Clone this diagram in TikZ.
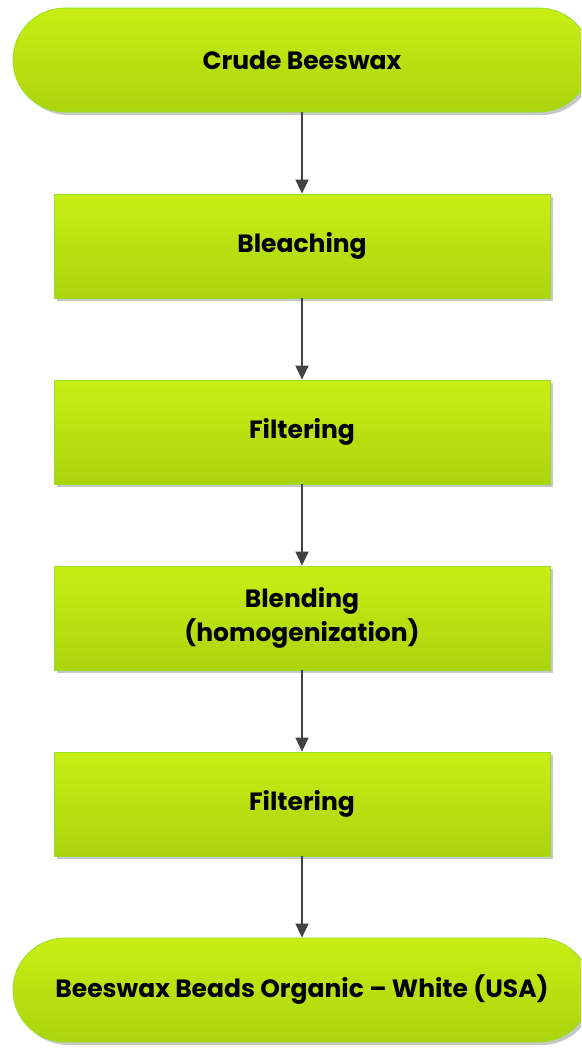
\documentclass[tikz,border=0pt]{standalone}
\usepackage{fontspec}
\setmainfont{Poppins}
\usetikzlibrary{arrows.meta,shadows}
\definecolor{gtop}{RGB}{199,239,20}
\definecolor{gbot}{RGB}{172,212,14}
\definecolor{gline}{RGB}{150,222,40}
\definecolor{arr}{RGB}{66,66,66}
\begin{document}
\begin{tikzpicture}[x=1pt,y=-1pt,
  base/.style={draw=gline, line width=0.8pt, top color=gtop, bottom color=gbot,
    minimum height=104pt, inner sep=0pt, align=center,
    font=\fontsize{25}{34}\selectfont\bfseries,
    drop shadow={shadow xshift=3pt, shadow yshift=-3pt, fill=black!22, opacity=1}},
  procbox/.style={base, minimum width=496pt},
  termbox/.style={base, minimum width=578pt, rounded corners=52pt},
  flow/.style={draw=arr, line width=1.6pt, -{Triangle[width=13pt,length=14pt]}}]
\useasboundingbox (0,0) rectangle (581,1049);
\clip (0,0) rectangle (581,1049);
\node[termbox] (t1) at (302,60) {Crude Beeswax};
\node[procbox] (b1) at (302,246) {Bleaching};
\node[procbox] (b2) at (302,432) {Filtering};
\node[procbox] (b3) at (302,618) {Blending\\(homogenization)};
\node[procbox] (b4) at (302,804) {Filtering};
\node[termbox] (t2) at (302,990) {Beeswax Beads Organic – White (USA)};
\draw[flow] (t1.south) -- (b1.north);
\draw[flow] (b1.south) -- (b2.north);
\draw[flow] (b2.south) -- (b3.north);
\draw[flow] (b3.south) -- (b4.north);
\draw[flow] (b4.south) -- (t2.north);
\end{tikzpicture}
\end{document}
